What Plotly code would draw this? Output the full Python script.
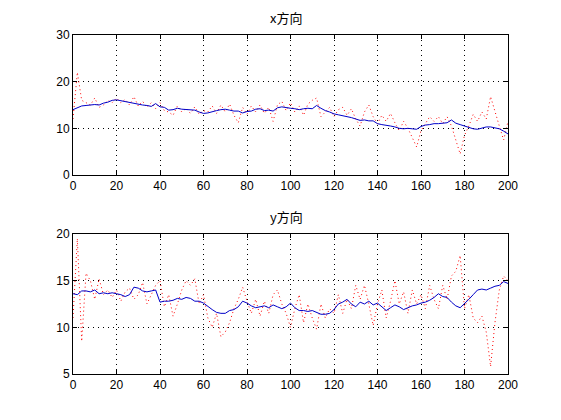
import plotly.graph_objects as go
from plotly.subplots import make_subplots

# sample index, step 2
steps = list(range(0, 201, 2))

# x direction: measured (red dotted) and filtered (blue)
x_meas = [12, 22, 16, 15.5, 15, 16.5, 14.5, 15, 16, 15.5, 16.5, 15.5, 16.2, 15, 16.8, 14.8, 15.8, 14.5, 15.5, 14.2,
          15.5, 13.8, 13.5, 12.8, 14.8, 13.5, 14.3, 13.2, 14.6, 13.0, 13.8, 13.5, 14.8, 13.2, 15.0, 13.5, 15.2, 12.8, 11.2, 14.5,
          13.0, 14.8, 13.5, 15.0, 13.2, 14.5, 11.5, 15.0, 15.8, 13.8, 15.5, 13.5, 14.8, 12.8, 15.2, 16.0, 16.5, 12.5, 13.5, 14.5,
          12.5, 14.0, 14.5, 12.8, 14.2, 12.0, 10.5, 13.5, 15.0, 12.5, 11.0, 12.8, 11.5, 13.2, 11.2, 9.5, 11.5, 10.0, 8.0, 6.0,
          9.5, 11.0, 12.5, 11.5, 12.5, 11.0, 12.5, 10.5, 7.5, 4.5, 8.5, 10.5, 13.0, 11.5, 13.5, 12.0, 16.8, 13.5, 10.5, 7.5,
          11.5]
x_filt = [14.0, 14.4, 14.8, 14.9, 15.0, 15.1, 15.0, 15.4, 15.6, 16.0, 16.1, 15.9, 15.8, 15.5, 15.4, 15.2, 15.0, 14.9, 14.7, 15.3,
          14.6, 14.5, 13.9, 14.0, 14.3, 14.1, 14.0, 13.9, 13.9, 13.5, 13.2, 13.3, 13.6, 13.8, 14.0, 14.1, 13.9, 13.7, 13.7, 13.3,
          13.6, 13.7, 14.1, 14.2, 13.8, 13.9, 13.7, 14.4, 14.6, 14.4, 14.3, 14.2, 14.0, 14.2, 14.3, 14.2, 14.9, 14.3, 13.8, 13.5,
          13.1, 12.9, 12.7, 12.6, 12.3, 12.0, 11.7, 11.8, 11.6, 11.6, 11.0, 10.8, 10.7, 10.5, 10.3, 10.0, 9.9, 10.0, 9.9, 9.8,
          10.4, 10.7, 10.8, 11.0, 11.0, 11.1, 11.2, 11.8, 11.1, 10.8, 10.5, 10.3, 9.9, 9.8, 10.1, 10.3, 10.3, 10.1, 9.9, 9.4,
          8.8]

# y direction
y_meas = [11, 19.5, 8.5, 15.8, 15.0, 13.0, 15.2, 13.5, 14.0, 13.2, 14.0, 12.8, 13.8, 14.2, 13.0, 13.5, 14.8, 12.5, 13.5, 14.5,
          15.0, 12.2, 13.5, 11.2, 12.5, 14.0, 15.0, 14.5, 15.2, 12.5, 13.5, 11.0, 10.0, 11.5, 9.0, 9.5, 10.5, 12.0, 13.0, 14.3,
          12.8, 11.5, 13.0, 11.2, 12.8, 11.5, 13.5, 14.0, 12.5, 11.5, 10.0, 12.0, 13.5, 10.5, 12.5, 11.0, 9.8, 12.5, 11.0, 12.0,
          11.5, 13.5, 11.5, 13.0, 12.0, 14.5, 13.0, 14.5, 12.5, 10.2, 12.5, 14.0, 11.0, 12.8, 15.0, 12.5, 13.8, 11.5, 14.0, 12.5,
          13.5, 12.0, 14.5, 13.0, 12.0, 14.5, 13.0, 15.5, 16.0, 17.7, 12.0, 13.5, 11.0, 10.5, 11.2, 9.5, 5.8, 10.5, 14.0, 15.5,
          15.0]
y_filt = [13.6, 13.5, 13.9, 13.9, 13.8, 14.0, 13.6, 13.7, 13.6, 13.7, 13.6, 13.5, 13.3, 13.5, 14.3, 14.2, 13.9, 13.8, 13.9, 14.0,
          12.7, 12.8, 12.8, 12.9, 13.1, 13.0, 13.2, 13.1, 12.8, 12.8, 12.6, 12.2, 11.9, 11.6, 11.5, 11.5, 11.8, 11.9, 12.2, 12.8,
          12.6, 12.3, 12.1, 12.2, 12.3, 12.1, 12.4, 12.2, 12.0, 12.2, 12.6, 12.1, 11.8, 11.8, 11.7, 11.8, 11.6, 11.4, 11.4, 11.5,
          11.9, 12.5, 12.7, 13.0, 12.5, 12.2, 12.7, 12.5, 12.8, 12.4, 12.6, 12.2, 11.8, 12.1, 12.4, 12.2, 11.9, 12.1, 12.3, 12.4,
          12.6, 12.7, 12.9, 13.2, 13.6, 13.3, 13.2, 12.7, 12.3, 12.1, 12.5, 13.0, 13.5, 14.0, 14.1, 14.0, 14.2, 14.4, 14.5, 14.9,
          14.7]

fig = make_subplots(rows=2, cols=1, vertical_spacing=0.174)

for row, meas, filt in [(1, x_meas, x_filt), (2, y_meas, y_filt)]:
    fig.add_trace(go.Scatter(x=steps, y=meas, mode="lines",
                             line=dict(color="#ff0000", width=1, dash="1px,3px")), row=row, col=1)
    fig.add_trace(go.Scatter(x=steps, y=filt, mode="lines",
                             line=dict(color="#0000c8", width=1)), row=row, col=1)

axis_style = dict(showline=True, linecolor="black", linewidth=1, mirror="ticks",
                  ticks="inside", ticklen=4, tickcolor="black",
                  showgrid=True, gridcolor="black", griddash="1px,4px", gridwidth=1,
                  zeroline=False, tickfont=dict(family="Liberation Sans", size=12, color="black"))

fig.update_xaxes(range=[0, 200], tickvals=list(range(0, 201, 20)), **axis_style)
fig.update_yaxes(axis_style)
fig.update_yaxes(range=[0, 30], tickvals=[0, 10, 20, 30], row=1, col=1)
fig.update_yaxes(range=[5, 20], tickvals=[5, 10, 15, 20], row=2, col=1)

# page body adds an 8px offset, so the figure is sized and placed to compensate
fig.update_layout(
    width=553, height=412,
    margin=dict(l=65, r=53, t=27, b=46),
    paper_bgcolor="white", plot_bgcolor="white",
    showlegend=False,
    annotations=[
        dict(text="x方向", x=0.49, y=1.0, xref="paper", yref="paper", yshift=6,
             xanchor="center", yanchor="bottom", showarrow=False,
             font=dict(family="Noto Sans CJK SC", size=13, color="black")),
        dict(text="y方向", x=0.49, y=0.413, xref="paper", yref="paper", yshift=6,
             xanchor="center", yanchor="bottom", showarrow=False,
             font=dict(family="Noto Sans CJK SC", size=13, color="black")),
    ],
)

fig.write_html("out.html")
